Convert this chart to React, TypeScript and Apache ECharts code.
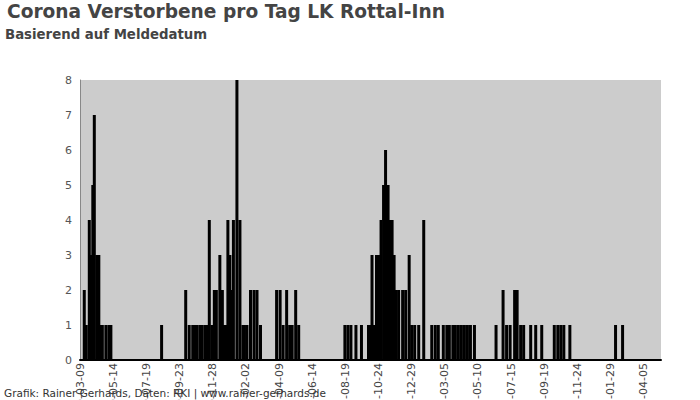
import React, { useEffect, useRef } from "react";
import * as echarts from "echarts";

const TITLE = "Corona Verstorbene pro Tag LK Rottal-Inn";
const SUBTITLE = "Basierend auf Meldedatum";
const FOOTER = "Grafik: Rainer Gerhards, Daten: RKI | www.rainer-gerhards.de";

const FIRST_DAY = "2020-03-09";
const LAST_DAY = "2023-05-09";

// Days with reported deaths (all other days: 0)
const deathDates = [
  "2020-03-17", "2020-03-21", "2020-03-27", "2020-03-30", "2020-04-03", "2020-04-06",
  "2020-04-11", "2020-04-15", "2020-04-19", "2020-04-22", "2020-04-29", "2020-05-05",
  "2020-05-09", "2020-08-18",
  "2020-10-05", "2020-10-12", "2020-10-19", "2020-10-23", "2020-10-28", "2020-11-03",
  "2020-11-07", "2020-11-13", "2020-11-17", "2020-11-21", "2020-11-26", "2020-12-01",
  "2020-12-05", "2020-12-12", "2020-12-17", "2020-12-20", "2020-12-24", "2020-12-28",
  "2021-01-01", "2021-01-04", "2021-01-08", "2021-01-15", "2021-01-21", "2021-01-27",
  "2021-01-30", "2021-02-04", "2021-02-11", "2021-02-18", "2021-02-24", "2021-03-03",
  "2021-04-04", "2021-04-11", "2021-04-17", "2021-04-24", "2021-04-30", "2021-05-05",
  "2021-05-12", "2021-05-18",
  "2021-08-18", "2021-08-24", "2021-08-30", "2021-09-09", "2021-09-20", "2021-10-04",
  "2021-10-07", "2021-10-11", "2021-10-16", "2021-10-20", "2021-10-24", "2021-10-29",
  "2021-11-03", "2021-11-07", "2021-11-12", "2021-11-16", "2021-11-20", "2021-11-24",
  "2021-11-28", "2021-12-03", "2021-12-11", "2021-12-17", "2021-12-24", "2021-12-29",
  "2022-01-04", "2022-01-12", "2022-01-22", "2022-02-07", "2022-02-14", "2022-02-20",
  "2022-03-02", "2022-03-09", "2022-03-14", "2022-03-21", "2022-03-26", "2022-04-01",
  "2022-04-07", "2022-04-13", "2022-04-19", "2022-04-25", "2022-05-03",
  "2022-06-15", "2022-06-29", "2022-07-06", "2022-07-13", "2022-07-22", "2022-07-27",
  "2022-08-03", "2022-08-09", "2022-08-23", "2022-09-02", "2022-09-14",
  "2022-10-09", "2022-10-16", "2022-10-22", "2022-10-28", "2022-11-09",
  "2023-02-08", "2023-02-22",
];

const deathCounts = [
  2, 1, 4, 3, 5, 7,
  3, 3, 1, 1, 1, 1,
  1, 1,
  2, 1, 1, 1, 1, 1,
  1, 1, 1, 4, 1, 2,
  2, 3, 2, 1, 1, 4,
  3, 2, 4, 8, 4, 1,
  1, 1, 2, 2, 2, 1,
  2, 2, 1, 2, 1, 1,
  2, 1,
  1, 1, 1, 1, 1, 1,
  1, 3, 1, 3, 3, 4,
  5, 6, 5, 4, 4, 3,
  2, 2, 2, 2, 3, 1,
  1, 1, 4, 1, 1, 1,
  1, 1, 1, 1, 1, 1,
  1, 1, 1, 1, 1,
  1, 2, 1, 1, 2, 2,
  1, 1, 1, 1, 1,
  1, 1, 1, 1, 1,
  1, 1,
];

const Y_MIN = 0;
const Y_MAX = 8;
const Y_STEP = 1;

const FONT = "DejaVu Sans";

function buildDays(start: string, end: string): string[] {
  const out: string[] = [];
  let t = Date.parse(start + "T00:00:00Z");
  const e = Date.parse(end + "T00:00:00Z");
  while (t <= e) {
    out.push(new Date(t).toISOString().slice(0, 10));
    t += 86400000;
  }
  return out;
}

export default function App() {
  const ref = useRef<HTMLDivElement>(null);

  useEffect(() => {
    document.body.style.margin = "0";
    if (!ref.current) return;
    const chart = echarts.init(ref.current, undefined, { renderer: "svg" });
    const days = buildDays(FIRST_DAY, LAST_DAY);
    const lookup: Record<string, number> = {};
    deathDates.forEach((d, i) => {
      lookup[d] = deathCounts[i];
    });
    const values = days.map((d) => (lookup[d] !== undefined ? lookup[d] : 0));

    chart.setOption({
      animation: false,
      backgroundColor: "#ffffff",
      textStyle: { fontFamily: FONT },
      title: [
        {
          text: TITLE,
          left: 7,
          top: 2,
          padding: 0,
          textStyle: { fontFamily: FONT, fontSize: 18.6, fontWeight: "bold", color: "#444444" },
        },
        {
          text: SUBTITLE,
          left: 5,
          top: 28,
          padding: 0,
          textStyle: { fontFamily: FONT, fontSize: 13.3, fontWeight: "bold", color: "#444444" },
        },
      ],
      graphic: [
        {
          type: "text",
          left: 4,
          top: 387,
          z: 100,
          style: { text: FOOTER, fontFamily: FONT, fontSize: 10.5, fill: "#333333" },
        },
      ],
      grid: {
        left: 80,
        right: 39,
        top: 80,
        bottom: 40,
        show: true,
        backgroundColor: "#cccccc",
        borderWidth: 0,
        containLabel: false,
        outerBoundsMode: "none",
      },
      xAxis: {
        type: "category",
        data: days,
        boundaryGap: true,
        axisLine: { lineStyle: { color: "#000000", width: 2 } },
        axisTick: { show: false },
        splitLine: { show: false },
        axisLabel: {
          interval: 65,
          rotate: 90,
          margin: 3,
          fontSize: 11,
          color: "#444444",
          fontFamily: FONT,
        },
      },
      yAxis: {
        type: "value",
        min: Y_MIN,
        max: Y_MAX,
        interval: Y_STEP,
        axisLine: { show: true, lineStyle: { color: "#888888", width: 1 } },
        axisTick: { show: false },
        splitLine: { show: false },
        axisLabel: { color: "#555555", fontSize: 11, margin: 8, fontFamily: FONT },
      },
      series: [
        {
          type: "bar",
          data: values,
          barWidth: 3,
          itemStyle: { color: "#000000" },
        },
      ],
    });

    return () => chart.dispose();
  }, []);

  return <div ref={ref} style={{ width: 700, height: 400 }} />;
}
